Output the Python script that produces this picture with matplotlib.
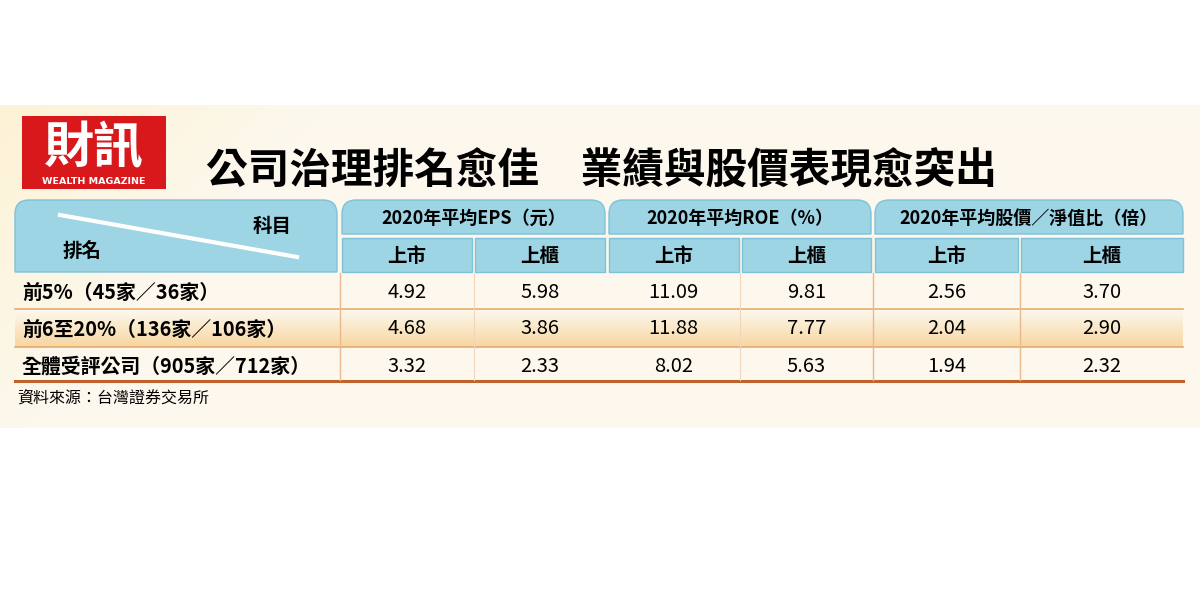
import numpy as np
import matplotlib.pyplot as plt
from matplotlib.path import Path
from matplotlib.patches import PathPatch, Rectangle

plt.rcParams['font.family'] = ['Noto Sans CJK TC', 'DejaVu Sans']

# data
title = '公司治理排名愈佳　業績與股價表現愈突出'
groups = ['2020年平均EPS（元）', '2020年平均ROE（%）', '2020年平均股價／淨值比（倍）']
subs = ['上市', '上櫃']
rows = ['前5%（45家／36家）', '前6至20%（136家／106家）', '全體受評公司（905家／712家）']
eps_listed = [4.92, 4.68, 3.32]
eps_otc = [5.98, 3.86, 2.33]
roe_listed = [11.09, 11.88, 8.02]
roe_otc = [9.81, 7.77, 5.63]
pb_listed = [2.56, 2.04, 1.94]
pb_otc = [3.70, 2.90, 2.32]
source = '資料來源：台灣證券交易所'

columns = [eps_listed, eps_otc, roe_listed, roe_otc, pb_listed, pb_otc]

BLUE = '#9dd5e4'
EDGE = '#7fc2d8'
CREAM = np.array([253, 248, 237]) / 255

fig = plt.figure(figsize=(12, 6), dpi=100)
ax = fig.add_axes([0, 0, 1, 1])
ax.set_xlim(0, 1200)
ax.set_ylim(600, 0)
ax.axis('off')

# cream band with a yellow tint top-left
h, w = 160, 600
yy, xx = np.mgrid[0:h, 0:w]
d = np.clip(1 - (xx / w * 6 + yy / h * 1.5) / 1.6, 0, 1)
bg = np.ones((h, w, 3)) * CREAM
bg = bg * (1 - 0.25 * d[..., None]) + np.array([250, 225, 140]) / 255 * 0.25 * d[..., None]
ax.imshow(bg, extent=(0, 1200, 428, 105), aspect='auto', zorder=0)


def top_round(x0, y0, x1, y1, r=14):
    # rectangle with rounded top corners (y grows downward)
    verts = [(x0, y1), (x0, y0 + r), (x0, y0), (x0 + r, y0),
             (x1 - r, y0), (x1, y0), (x1, y0 + r), (x1, y1), (x0, y1)]
    codes = [Path.MOVETO, Path.LINETO, Path.CURVE3, Path.CURVE3,
             Path.LINETO, Path.CURVE3, Path.CURVE3, Path.LINETO, Path.CLOSEPOLY]
    return PathPatch(Path(verts, codes), facecolor=BLUE, edgecolor=EDGE, lw=1, zorder=2)


# logo
ax.add_patch(Rectangle((22, 116), 144, 73, facecolor='#d9181c', zorder=3))
ax.text(94, 148, '財訊', color='white', fontsize=36, fontweight='black',
        ha='center', va='center', zorder=4)
ax.text(94, 181, 'WEALTH MAGAZINE', color='white', fontsize=6.8, fontweight='bold',
        family='DejaVu Sans', ha='center', va='center', zorder=4)

# title
ax.text(601, 172, title, fontsize=30, fontweight='black', ha='center', va='center', zorder=3)

# header left cell
ax.add_patch(top_round(15, 200, 337, 272))
ax.plot([60, 297], [215, 257], color='white', lw=3, zorder=3)
ax.text(272, 226, '科目', fontsize=14, fontweight='bold', ha='center', va='center', zorder=4)
ax.text(82, 251, '排名', fontsize=14, fontweight='bold', ha='center', va='center', zorder=4)

# group and sub headers
gx = [(342, 605), (609, 871), (875, 1183)]
col_x = []
for (a, b), g in zip(gx, groups):
    ax.add_patch(top_round(a, 200, b, 234))
    ax.text((a + b) / 2, 218, g, fontsize=13, fontweight='bold', ha='center', va='center', zorder=4)
    mid = (a + b) / 2 if b < 1100 else 1019.5
    for sa, sb, s in [(a, mid - 1.5, subs[0]), (mid + 1.5, b, subs[1])]:
        ax.add_patch(Rectangle((sa, 238), sb - sa, 34, facecolor=BLUE, edgecolor=EDGE, lw=1, zorder=2))
        ax.text((sa + sb) / 2, 256, s, fontsize=14, fontweight='bold', ha='center', va='center', zorder=4)
        col_x.append((sa + sb) / 2)

# row bands
row_y = [292, 329, 366]
grad = np.linspace(0, 1, 50)[:, None, None]
band = CREAM * (1 - grad) + np.array([247, 214, 160]) / 255 * grad
ax.imshow(band, extent=(15, 1183, 347, 310), aspect='auto', zorder=1)
for y in [309, 347]:
    ax.plot([15, 1183], [y, y], color='#e9a971', lw=1.2, zorder=3)
ax.plot([15, 1183], [381, 381], color='#c0622c', lw=2.2, zorder=3)
for x in [340, 873, 1020]:
    ax.plot([x, x], [273, 380], color='#e8b88e', lw=1, zorder=3)
for x in [473.5, 740]:
    ax.plot([x, x], [273, 380], color='#f0d6bc', lw=0.8, zorder=3)

for y, r in zip(row_y, rows):
    ax.text(22, y, r, fontsize=14.3, fontweight='bold', ha='left', va='center', zorder=4)
for x, col in zip(col_x, columns):
    for y, v in zip(row_y, col):
        ax.text(x, y, f'{v:.2f}', fontsize=14.5, ha='center', va='center', zorder=4)

ax.text(17, 398, source, fontsize=11.5, ha='left', va='center', zorder=4)

fig.savefig('out.png', dpi=100, facecolor='white')
